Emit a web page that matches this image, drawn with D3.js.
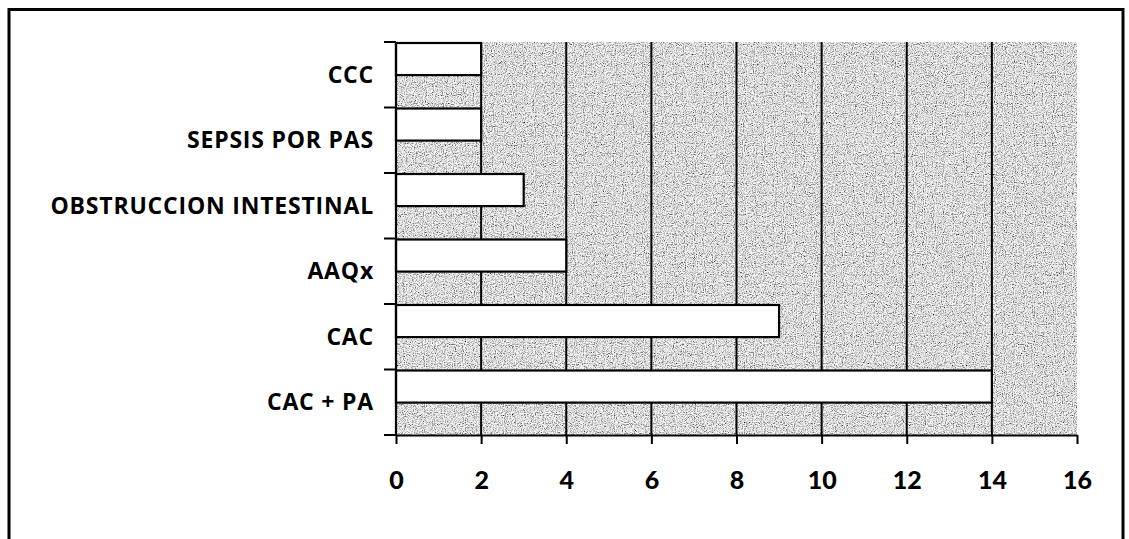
<!DOCTYPE html>
<html><head><meta charset="utf-8">
<script src="https://cdn.jsdelivr.net/npm/d3@7"></script>
<style>body{margin:0;background:#fff}svg{display:block}</style>
</head><body>
<script>
const categories = ["CCC","SEPSIS POR PAS","OBSTRUCCION INTESTINAL","AAQx","CAC","CAC + PA"];
const values = [2,2,3,4,9,14];
const xTicks = [0,2,4,6,8,10,12,14,16];

const W=1129,H=539;
const svg=d3.select("body").append("svg").attr("width",W).attr("height",H);
const defs=svg.append("defs");
const f=defs.append("filter").attr("id","grain").attr("x",0).attr("y",0).attr("width","100%").attr("height","100%");
f.append("feTurbulence").attr("type","fractalNoise").attr("baseFrequency","0.9").attr("numOctaves",2).attr("seed",3).attr("result","n");
f.append("feComponentTransfer").attr("in","n").attr("result","g")
 .call(s=>{["R","G","B"].forEach(c=>s.append("feFunc"+c).attr("type","linear").attr("slope",2.8).attr("intercept",-0.68));s.append("feFuncA").attr("type","linear").attr("slope",0).attr("intercept",1);});
f.append("feColorMatrix").attr("in","g").attr("type","saturate").attr("values",0);

// outer border
svg.append("rect").attr("x",9).attr("y",9.5).attr("width",1114).attr("height",560)
 .attr("fill","none").attr("stroke","#000").attr("stroke-width",3);

const pLeft=396,pRight=1077,pTop=42,pBottom=435;
const x=d3.scaleLinear().domain([0,16]).range([pLeft,pRight]);
const y=d3.scaleBand().domain(categories).range([pTop,pBottom]);

svg.append("rect").attr("x",pLeft).attr("y",pTop).attr("width",pRight-pLeft).attr("height",pBottom-pTop)
 .attr("fill","#aaa").attr("filter","url(#grain)");

// gridlines
svg.append("g").selectAll("line").data(xTicks.filter(t=>t>0&&t<16)).join("line")
 .attr("x1",d=>x(d)).attr("x2",d=>x(d)).attr("y1",pTop).attr("y2",pBottom)
 .attr("stroke","#000").attr("stroke-width",2);

// bars
svg.append("g").selectAll("rect").data(values).join("rect")
 .attr("x",x(0)).attr("y",(d,i)=>y(categories[i])+1)
 .attr("width",d=>x(d)-x(0)).attr("height",y.bandwidth()*0.49)
 .attr("fill","#fff").attr("stroke","#000").attr("stroke-width",2.2);

// x axis
const gx=svg.append("g").attr("transform",`translate(0,${pBottom})`)
 .call(d3.axisBottom(x).tickValues(xTicks).tickSize(9).tickSizeOuter(0).tickPadding(27));
gx.select(".domain").attr("stroke-width",2.2);
gx.selectAll(".tick line").attr("stroke-width",2);
gx.selectAll("text").attr("font-family","Lato, 'Open Sans', sans-serif").attr("font-weight","900")
 .attr("font-size",25).attr("fill","#000");

// y axis
const bounds=categories.map(c=>y(c)).concat([pBottom]);
svg.append("g").selectAll("line").data(bounds).join("line")
 .attr("x1",pLeft-12).attr("x2",pLeft).attr("y1",d=>d).attr("y2",d=>d)
 .attr("stroke","#000").attr("stroke-width",2);
svg.append("line").attr("x1",pLeft).attr("x2",pLeft).attr("y1",pTop).attr("y2",pBottom)
 .attr("stroke","#000").attr("stroke-width",2.2);
svg.append("g").selectAll("text").data(categories).join("text")
 .attr("x",pLeft-22).attr("y",d=>y(d)+y.bandwidth()/2).attr("dy","0.35em")
 .attr("text-anchor","end").attr("font-family","'Open Sans', Lato, sans-serif")
 .attr("font-weight","bold").attr("font-size",23).attr("letter-spacing","0.8px").attr("fill","#000").text(d=>d);
</script>
</body></html>
